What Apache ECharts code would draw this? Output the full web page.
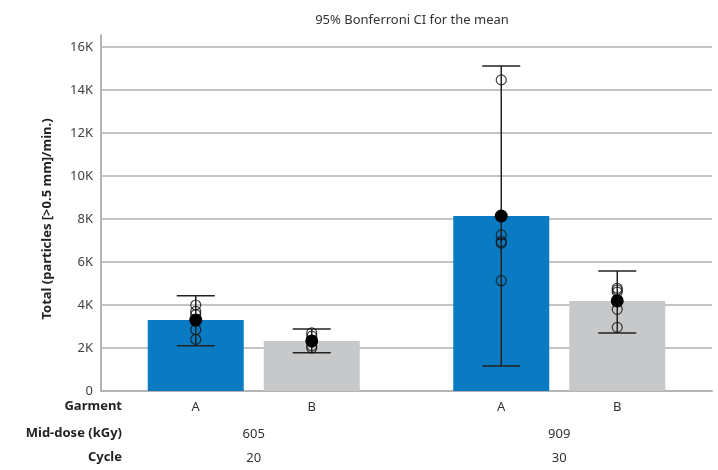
<!DOCTYPE html>
<html>
<head>
<meta charset="utf-8">
<script src="https://cdn.jsdelivr.net/npm/echarts@6/dist/echarts.min.js"></script>
<style>html,body{margin:0;padding:0;background:#fff}#c{width:718px;height:470px}</style>
</head>
<body>
<div id="c"></div>
<script>
// ---- data ----
const midDose = ['605', '909'];
const cycles = ['20', '30'];
const garments = ['A', 'B'];
const meanA = [3300, 8140];
const meanB = [2330, 4190];
const ciLowA = [2100, 1160];
const ciHighA = [4430, 15120];
const ciLowB = [1780, 2700];
const ciHighB = [2880, 5580];
const obsA = [[4000, 3700, 3550, 2850, 2400], [14470, 7260, 6950, 6880, 5130]];
const obsB = [[2700, 2550, 2300, 2100, 2000], [4780, 4700, 4600, 3800, 2960]];
const yTicks = [0, 2000, 4000, 6000, 8000, 10000, 12000, 14000, 16000];

// ---- style ----
const FONT = 'Noto Sans';
const BAR_W = 96, BAR_GAP = 20;
const OFF = (BAR_W + BAR_GAP) / 2;
const colorA = '#0a7bc2', colorB = '#c7c8ca';

function errSeries(name, lows, highs, sign) {
  return {
    type: 'custom', name: name + ' CI', z: 5,
    xAxisIndex: 0, yAxisIndex: 0,
    data: lows.map((l, i) => [i, l, highs[i]]),
    renderItem(params, api) {
      const x = api.value(0);
      const lo = api.coord([x, api.value(1)]);
      const hi = api.coord([x, api.value(2)]);
      const cx = lo[0] + sign * OFF;
      const cw = 19;
      const st = { stroke: '#222', lineWidth: 1.5 };
      return {
        type: 'group',
        children: [
          { type: 'line', shape: { x1: cx, y1: lo[1], x2: cx, y2: hi[1] }, style: st },
          { type: 'line', shape: { x1: cx - cw, y1: lo[1], x2: cx + cw, y2: lo[1] }, style: st },
          { type: 'line', shape: { x1: cx - cw, y1: hi[1], x2: cx + cw, y2: hi[1] }, style: st }
        ]
      };
    }
  };
}
function obsSeries(name, obs, sign) {
  const d = [];
  obs.forEach((arr, i) => arr.forEach(v => d.push([i, v])));
  return {
    type: 'scatter', name: name + ' obs', z: 6,
    data: d, symbol: 'circle', symbolSize: 10, symbolOffset: [sign * OFF, 0],
    itemStyle: { color: 'rgba(0,0,0,0)', borderColor: '#111', borderWidth: 1.2 },
    silent: true
  };
}
function meanSeries(name, means, sign) {
  return {
    type: 'scatter', name: name + ' mean', z: 7,
    data: means.map((v, i) => [i, v]), symbol: 'circle', symbolSize: 13,
    symbolOffset: [sign * OFF, 0],
    itemStyle: { color: '#000', opacity: 1 }, silent: true
  };
}

const chart = echarts.init(document.getElementById('c'), null, { renderer: 'canvas' });
chart.setOption({
  animation: false,
  textStyle: { fontFamily: FONT },
  title: {
    text: '95% Bonferroni CI for the mean', left: 407, top: 9, textAlign: 'center',
    textStyle: { fontFamily: FONT, fontSize: 13, fontWeight: 'normal', color: '#333' }
  },
  grid: [
    { left: 101, right: 6, top: 47, bottom: 79 },
    { left: 101, right: 6, top: 35, bottom: 79 }
  ],
  xAxis: [
    {
      type: 'category', gridIndex: 0, data: midDose,
      axisLine: { lineStyle: { color: '#b4b4b4', width: 2 } },
      axisTick: { show: false },
      axisLabel: {
        formatter: (v, i) => v + '\n' + cycles[i],
        lineHeight: 24, margin: 31, fontSize: 13, color: '#333', fontFamily: FONT
      }
    },
    { type: 'category', gridIndex: 1, data: midDose, show: false }
  ],
  yAxis: [
    {
      type: 'value', gridIndex: 0, min: 0, max: 16000, interval: 2000,
      name: 'Total (particles [>0.5 mm]/min.)', nameLocation: 'middle', nameGap: 47,
      nameTextStyle: { fontFamily: FONT, fontWeight: 'bold', fontSize: 13, color: '#222' },
      axisLine: { show: false },
      axisTick: { show: false },
      axisLabel: {
        formatter: v => (yTicks.indexOf(v) >= 0 ? (v === 0 ? '0' : (v / 1000) + 'K') : ''),
        fontSize: 13, color: '#404040', margin: 8, fontFamily: FONT
      },
      splitLine: { lineStyle: { color: '#c4c4c4', width: 2 } }
    },
    {
      type: 'value', gridIndex: 1, min: 0, max: 1,
      axisLine: { show: true, lineStyle: { color: '#b4b4b4', width: 2 } },
      axisTick: { show: false }, axisLabel: { show: false }, splitLine: { show: false }
    }
  ],
  graphic: [
    { type: 'text', right: 718 - 122, top: 400, style: { text: 'Garment', font: 'bold 13px "Noto Sans"', fill: '#222', textAlign: 'right' } },
    { type: 'text', right: 718 - 122, top: 427, style: { text: 'Mid-dose (kGy)', font: 'bold 13px "Noto Sans"', fill: '#222', textAlign: 'right' } },
    { type: 'text', right: 718 - 122, top: 451, style: { text: 'Cycle', font: 'bold 13px "Noto Sans"', fill: '#222', textAlign: 'right' } }
  ],
  series: [
    {
      type: 'bar', name: garments[0], data: meanA, barWidth: BAR_W, barGap: (BAR_GAP / BAR_W * 100) + '%',
      itemStyle: { color: colorA }, silent: true,
      label: { show: true, position: 'bottom', distance: 8, formatter: () => garments[0], fontSize: 13, lineHeight: 16, color: '#333', fontFamily: FONT }
    },
    {
      type: 'bar', name: garments[1], data: meanB, barWidth: BAR_W,
      itemStyle: { color: colorB }, silent: true,
      label: { show: true, position: 'bottom', distance: 8, formatter: () => garments[1], fontSize: 13, lineHeight: 16, color: '#333', fontFamily: FONT }
    },
    errSeries('A', ciLowA, ciHighA, -1),
    errSeries('B', ciLowB, ciHighB, 1),
    obsSeries('A', obsA, -1),
    obsSeries('B', obsB, 1),
    meanSeries('A', meanA, -1),
    meanSeries('B', meanB, 1)
  ]
});
</script>
</body>
</html>
